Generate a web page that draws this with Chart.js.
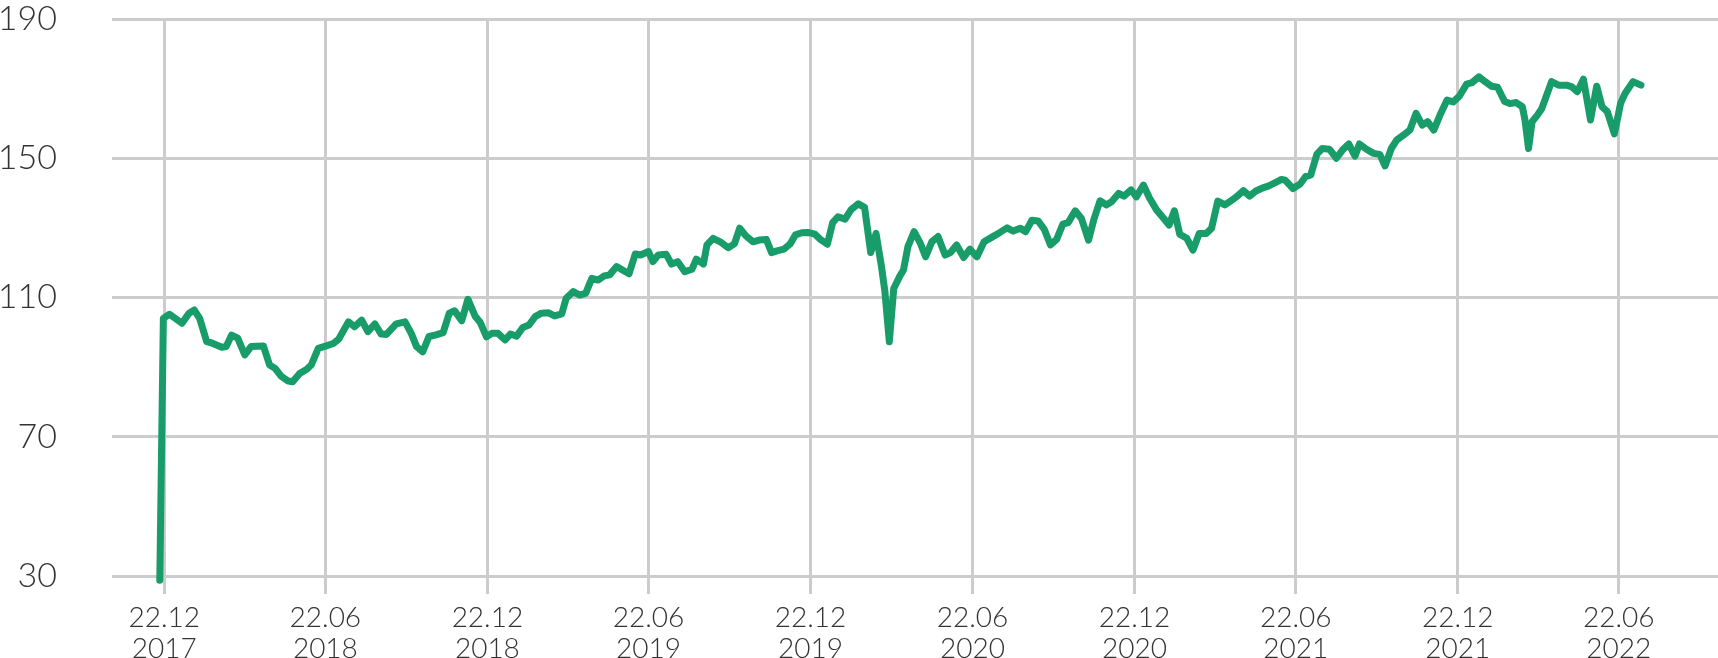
<!DOCTYPE html>
<html>
<head>
<meta charset="utf-8">
<script src="https://cdn.jsdelivr.net/npm/chart.js@4.4.1/dist/chart.umd.min.js"></script>
<style>
html,body{margin:0;padding:0;background:#ffffff;}
#wrap{width:1718px;height:658px;position:relative;}
</style>
</head>
<body>
<div id="wrap"><canvas id="c"></canvas></div>
<script>
// Days since 22.12.2017 for each observation
const dayOffsets = [-5,-1,6,20,28,34,40,48,53,65,70,76,83,91,98,112,119,125,132,140,
145,153,161,166,174,183,191,197,208,215,223,230,238,245,251,262,272,279,285,292,
299,306,315,322,328,336,343,351,357,364,370,377,385,391,398,405,412,419,426,434,
441,449,454,462,469,476,483,490,497,503,511,519,525,532,538,547,552,558,567,573,
580,588,596,601,609,613,620,628,637,644,650,657,665,672,680,686,692,700,707,713,
720,727,735,741,749,755,761,769,776,784,791,798,804,810,814,819,824,831,835,840,
847,854,860,867,874,882,888,895,903,910,918,926,934,944,952,959,967,973,980,987,
994,1001,1008,1015,1021,1029,1036,1044,1050,1057,1064,1070,1078,1084,1092,1098,1106,1113,1121,1129,
1135,1141,1147,1155,1162,1169,1177,1183,1190,1198,1206,1212,1219,1226,1233,1240,1247,1255,1262,1266,
1275,1283,1289,1295,1302,1308,1316,1324,1331,1338,1345,1350,1358,1366,1373,1379,1386,1392,1400,1407,
1414,1421,1427,1434,1441,1449,1456,1463,1471,1477,1485,1492,1499,1506,1514,1520,1527,1534,1537,1541,
1545,1551,1556,1567,1575,1584,1590,1596,1603,1611,1618,1624,1630,1638,1645,1650,1659,1668];

const values = [28.8,104.0,105.2,102.6,105.5,106.4,104.0,97.3,97.0,95.7,
95.9,99.2,98.3,93.5,95.9,96.1,90.6,89.7,87.4,86.0,
85.8,88.2,89.4,90.6,95.4,96.1,96.8,98.0,103.0,101.6,
103.5,100.2,102.4,99.5,99.4,102.4,103.0,99.7,95.9,94.4,
98.8,99.2,99.9,105.5,106.2,103.3,109.5,104.7,102.8,98.7,
99.7,99.7,97.8,99.5,98.9,101.4,102.1,104.5,105.5,105.6,
104.7,105.3,109.8,111.7,110.7,111.2,115.5,115.0,116.2,116.5,
118.9,117.7,116.8,122.5,122.2,123.2,120.3,122.2,122.4,119.6,
120.3,117.4,118.1,121.0,119.6,125.1,127.0,126.0,124.3,125.4,
129.9,127.7,126.0,126.5,126.7,122.9,123.4,123.9,125.4,128.0,
128.6,128.7,128.2,126.7,125.3,131.5,133.2,132.5,135.3,136.9,
135.9,122.9,128.4,119.1,111.7,97.3,112.6,116.2,117.9,124.6,
128.9,125.6,121.7,126.0,127.5,122.2,122.9,125.1,121.5,123.9,
121.7,126.0,127.2,128.7,130.0,129.1,129.9,128.9,132.2,132.0,
129.6,125.1,126.7,131.1,131.5,134.9,132.7,126.5,132.4,137.8,
136.6,137.5,139.9,139.1,140.9,138.9,142.3,138.5,135.1,132.7,
130.8,134.9,128.2,127.0,123.6,128.4,128.4,129.9,137.7,136.6,
138.0,139.1,140.7,139.1,140.6,141.4,142.0,143.0,143.9,143.7,
141.3,142.6,144.7,145.2,151.2,152.8,152.6,150.0,152.4,154.1,
150.6,154.1,152.6,151.4,151.1,147.8,152.8,155.2,156.7,158.1,
162.9,159.5,160.5,158.1,162.4,166.7,166.2,167.9,171.3,171.7,
173.4,172.0,170.7,170.4,166.3,165.7,166.0,164.8,161.0,152.8,
160.5,162.4,164.3,172.0,171.0,171.0,170.5,169.1,172.7,161.0,
170.7,164.8,163.4,157.0,165.8,168.6,172.0,171.0];

const baseDate = '2017-12-22';
const tickDates = ['2017-12-22','2018-06-22','2018-12-22','2019-06-22','2019-12-22',
                   '2020-06-22','2020-12-22','2021-06-22','2021-12-22','2022-06-22'];
const tickLabels = [['22.12','2017'],['22.06','2018'],['22.12','2018'],['22.06','2019'],['22.12','2019'],
                    ['22.06','2020'],['22.12','2020'],['22.06','2021'],['22.12','2021'],['22.06','2022']];
const yTicks = [30,70,110,150,190];
const xRangeDays = [-59, 1755];

const dayMs = 86400000;
const base = Date.parse(baseDate + 'T00:00:00Z');
const tickDays = tickDates.map(d => Math.round((Date.parse(d + 'T00:00:00Z') - base) / dayMs));

const points = dayOffsets.map((d, i) => ({x: d, y: values[i]}));

const FONT = "Lato, 'Noto Sans', sans-serif";
const TEXT = '#333333';
const GRID = '#cccccc';

new Chart(document.getElementById('c'), {
  type: 'line',
  data: {
    datasets: [{
      data: points,
      borderColor: '#189d6a',
      backgroundColor: '#189d6a',
      borderWidth: 7,
      pointRadius: 0,
      pointHoverRadius: 0,
      tension: 0,
      fill: false,
      clip: false,
      borderJoinStyle: 'round',
      borderCapStyle: 'round'
    }]
  },
  options: {
    responsive: true,
    maintainAspectRatio: false,
    animation: false,
    events: [],
    layout: {padding: {top: 19, left: 0, right: 0, bottom: 0}},
    plugins: {legend: {display: false}, tooltip: {enabled: false}, title: {display: false}},
    scales: {
      x: {
        type: 'linear',
        min: xRangeDays[0],
        max: xRangeDays[1],
        afterBuildTicks: s => { s.ticks = tickDays.map(v => ({value: v})); },
        afterFit: s => { s.height = 82; },
        border: {display: false},
        grid: {color: GRID, lineWidth: 3, drawTicks: true, tickLength: 18, tickColor: GRID},
        ticks: {
          autoSkip: false, maxRotation: 0, minRotation: 0, padding: 8,
          color: TEXT,
          font: {family: FONT, size: 28, weight: '300', lineHeight: 1.12},
          callback: (v, i) => tickLabels[i]
        }
      },
      y: {
        type: 'linear',
        min: yTicks[0],
        max: yTicks[yTicks.length - 1],
        afterBuildTicks: s => { s.ticks = yTicks.map(v => ({value: v})); },
        afterFit: s => { s.width = 112; s.paddingTop = 17; s.paddingBottom = 17; },
        border: {display: false},
        grid: {color: GRID, lineWidth: 3, drawTicks: false},
        ticks: {
          padding: 55,
          color: TEXT,
          font: {family: FONT, size: 34, weight: '300', lineHeight: 1.0},
          callback: v => String(v)
        }
      }
    }
  }
});
</script>
</body>
</html>
